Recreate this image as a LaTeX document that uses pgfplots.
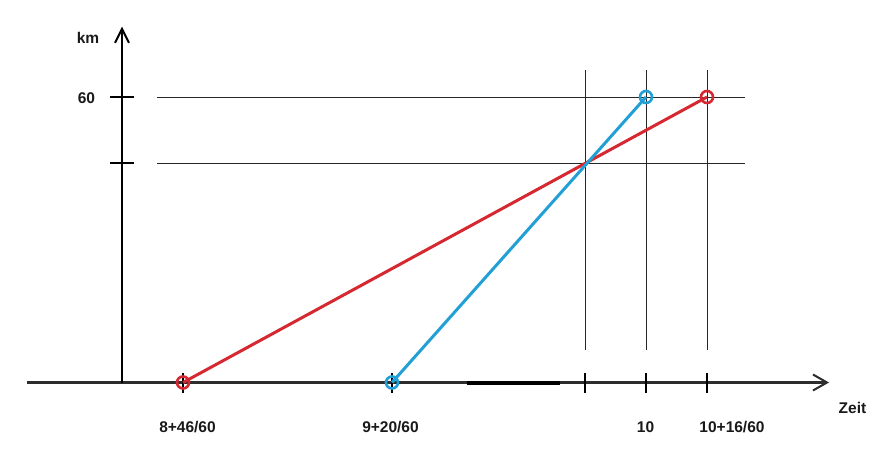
\documentclass[border=0pt]{standalone}
\usepackage{pgfplots}
\pgfplotsset{compat=1.18}
\usepackage{fontspec}
\setmainfont{Liberation Sans}
\usetikzlibrary{arrows.meta}
\definecolor{redl}{RGB}{214,40,48}
\definecolor{bluel}{RGB}{34,160,214}
\definecolor{axisgray}{RGB}{45,45,45}
\tikzset{lbl/.style={font=\fontsize{15.5}{18}\selectfont\bfseries, text=black!90, inner sep=0pt}}
\begin{document}
\begin{tikzpicture}
\begin{axis}[scale only axis, width=880pt, height=475pt,
  xmin=0, xmax=880, ymin=-19.44, ymax=80.39,
  axis lines=none, clip=false]
\path (axis cs:0,-19.44) rectangle (axis cs:880,80.39);
% thin guide lines
\draw[line width=1pt, black!85] (axis cs:157,60) -- (axis cs:745,60);
\draw[line width=1pt, black!85] (axis cs:157,46.13) -- (axis cs:745,46.13);
\draw[line width=1pt, black!85] (axis cs:585,65.67) -- (axis cs:585,6.83);
\draw[line width=1pt, black!85] (axis cs:646,65.67) -- (axis cs:646,6.83);
\draw[line width=1pt, black!85] (axis cs:707,65.67) -- (axis cs:707,6.83);
% axes
\draw[line width=2.6pt, axisgray, -{Straight Barb[length=14pt,width=16pt,line width=2pt]}] (axis cs:27,0) -- (axis cs:829,0);
\draw[line width=2.6pt, black, -{Straight Barb[length=14pt,width=14pt,line width=2pt]}] (axis cs:122,0) -- (axis cs:122,74.8);
\draw[line width=4pt, black] (axis cs:467,0) -- (axis cs:560,0);
% y ticks
\draw[line width=2.6pt, black] (axis cs:110,60) -- (axis cs:134,60);
\draw[line width=2.6pt, black] (axis cs:110,46.13) -- (axis cs:134,46.13);
% x ticks
\foreach \xx in {183,392,585,646,707}{
  \edef\temp{\noexpand\draw[line width=2pt, black] (axis cs:\xx,2.0) -- (axis cs:\xx,-2.2);}
  \temp
}
% data
\addplot[redl, line width=3pt, mark=o, mark size=6pt, mark options={line width=2.6pt, solid}] coordinates {(183,0) (707,60)};
\addplot[bluel, line width=3pt, mark=o, mark size=6pt, mark options={line width=2.6pt, solid}] coordinates {(392,0) (646,60)};
% labels
\node[lbl] at (axis cs:88,72.5) {km};
\node[lbl] at (axis cs:86.5,59.8) {60};
\node[lbl] at (axis cs:187.5,-9.35) {8+46/60};
\node[lbl] at (axis cs:390.5,-9.35) {9+20/60};
\node[lbl] at (axis cs:645.5,-9.35) {10};
\node[lbl] at (axis cs:732,-9.35) {10+16/60};
\node[lbl] at (axis cs:852.5,-5.36) {Zeit};
\end{axis}
\end{tikzpicture}
\end{document}
